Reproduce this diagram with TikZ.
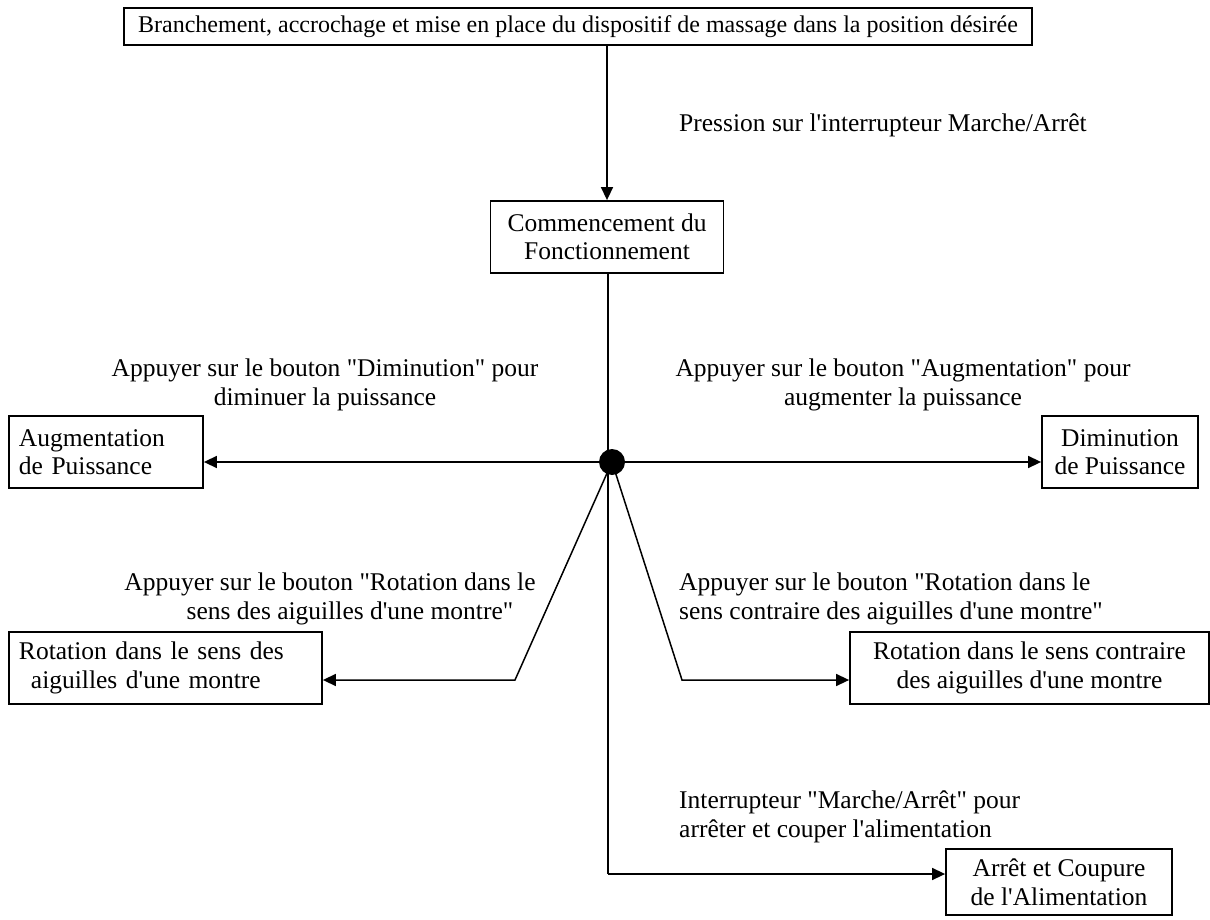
\documentclass[tikz,border=0pt]{standalone}
\usepackage{fontspec}
\setmainfont{Liberation Serif}[Ligatures=TeXOff]
\usetikzlibrary{arrows.meta}
\begin{document}
\begin{tikzpicture}[x=1pt,y=-1pt,
  txt/.style={font=\fontsize{25.5}{28.5}\selectfont, inner sep=0pt},
  box/.style={txt, draw, line width=1.8pt, align=center, inner xsep=10pt},
  lbl/.style={txt, align=center},
  lbll/.style={txt, align=left, anchor=west},
  arr/.style={line width=1.5pt, -{Triangle[length=13pt,width=12pt]}},
  ln/.style={line width=1.5pt}]
\useasboundingbox (0,0) rectangle (1210,920);

\node[box, font=\fontsize{24}{28}\selectfont, minimum width=908pt, minimum height=37pt] (top) at (578,26.5)
  {Branchement, accrochage et mise en place du dispositif de massage dans la position désirée};
\node[lbll] (press) at (679,125) {Pression sur l'interrupteur Marche/Arrêt};
\node[box, minimum width=233pt, minimum height=72pt] (comm) at (607,237)
  {Commencement du\\Fonctionnement};

\node[box, align=left, text width=174pt, minimum height=72pt] (aug) at (106,452)
  {Augmentation\\de Puissance};
\node[box, minimum width=156pt, minimum height=72pt] (dim) at (1120,452)
  {Diminution\\de Puissance};
\node[lbl] (ldim) at (325,385) {Appuyer sur le bouton "Diminution" pour\\diminuer la puissance};
\node[lbl] (laug) at (903,385) {Appuyer sur le bouton "Augmentation" pour\\augmenter la puissance};

\node[box, align=left, text width=293pt, minimum height=72pt] (rotl) at (165.5,668)
  {Rotation dans le sens des\\\hspace*{12pt}aiguilles d'une montre};
\node[box, minimum width=359pt, minimum height=72pt] (rotr) at (1029.5,668)
  {Rotation dans le sens contraire\\des aiguilles d'une montre};
\node[lbl] (lrotl) at (330,599) {Appuyer sur le bouton "Rotation dans le\\\hspace*{40pt}sens des aiguilles d'une montre"};
\node[lbll] (lrotr) at (679,599) {Appuyer sur le bouton "Rotation dans le\\sens contraire des aiguilles d'une montre"};

\node[lbll] (lstop) at (679,817) {Interrupteur "Marche/Arrêt" pour\\arrêter et couper l'alimentation};
\node[box, minimum width=226pt, minimum height=66pt] (stop) at (1059,882)
  {Arrêt et Coupure\\de l'Alimentation};

\coordinate (hub) at (612,462);
\coordinate (cl) at (515,680);
\coordinate (cr) at (682,680);
\coordinate (sv) at (608,874);

\draw[arr] (comm.north |- top.south) -- (comm.north);
\draw[ln] (comm.south -| sv) -- (sv);
\draw[arr] (sv) -- (sv -| stop.west);
\draw[arr] (hub) -- (hub -| aug.east);
\draw[arr] (hub) -- (hub -| dim.west);
\draw[arr] (hub) -- (cl) -- (cl -| rotl.east);
\draw[arr] (hub) -- (cr) -- (cr -| rotr.west);
\node[circle, fill=black, minimum size=26pt, inner sep=0pt] (dot) at (hub) {};
\end{tikzpicture}
\end{document}
